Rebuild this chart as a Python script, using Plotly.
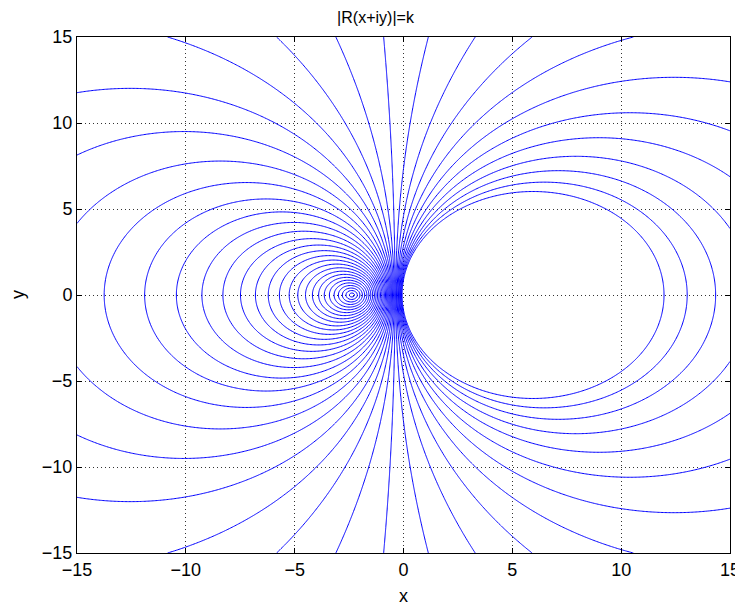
import numpy as np
import plotly.graph_objects as go

# Stability function: |R(z)| = gain * |z - zero| / |z - pole|
zero_re = -2.365
pole_re = 1.600
gain = 1.600 / 2.365          # so that |R(0)| = 1

# contour levels k
level_start = 0.0202
level_step = 0.02408
level_end = 0.9353

x_range = [-15, 15]
y_range = [-15, 15]
tick_vals = [-15, -10, -5, 0, 5, 10, 15]

xs = np.linspace(x_range[0], x_range[1], 481)
ys = np.linspace(y_range[0], y_range[1], 481)
X, Y = np.meshgrid(xs, ys)
Zc = X + 1j * Y
Z = gain * np.abs(Zc - zero_re) / np.abs(Zc - pole_re)

fig = go.Figure(go.Contour(
    x=xs, y=ys, z=Z, showscale=False,
    contours=dict(coloring='lines', start=level_start, end=level_end + level_step * 0.01, size=level_step),
    colorscale=[[0, '#0000ff'], [1, '#0000ff']], line=dict(width=1), hoverinfo='skip'))

ax = dict(showline=True, linecolor='black', linewidth=1, mirror='allticks', ticks='inside', ticklen=5,
          tickcolor='black', showgrid=True, gridcolor='#333', griddash='1px,3px', gridwidth=1,
          zeroline=False, tickfont=dict(size=18, color='black'), tickvals=tick_vals, automargin=False)
# page has an 8px body margin: figure occupies 735x600 starting at (8,8)
fig.update_layout(
    width=735, height=600, margin=dict(l=69, r=13, t=29, b=55),
    paper_bgcolor='white', plot_bgcolor='white',
    font=dict(family='Liberation Sans, Arial, sans-serif', color='black'),
    title=dict(text='|R(x+iy)|=k', x=0.5, xanchor='center', y=0.984, yanchor='middle',
               font=dict(size=16, color='black')),
    xaxis=dict(ax, range=x_range),
    yaxis=dict(ax, range=y_range),
    annotations=[
        dict(text='x', xref='paper', yref='paper', x=0.5, y=0, yshift=-43, xanchor='center',
             yanchor='middle', showarrow=False, font=dict(size=18, color='black')),
        dict(text='y', xref='paper', yref='paper', x=0, y=0.5, xshift=-59, xanchor='center',
             yanchor='middle', textangle=-90, showarrow=False, font=dict(size=18, color='black')),
    ],
)
fig.write_html("out.html")
